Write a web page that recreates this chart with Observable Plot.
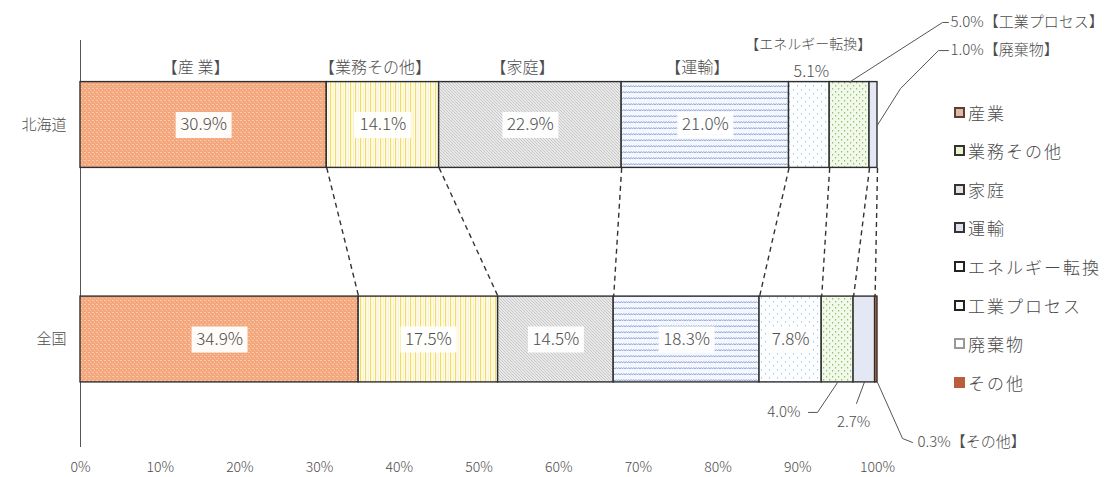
<!DOCTYPE html>
<html><head><meta charset="utf-8">
<script src="https://cdn.jsdelivr.net/npm/d3@7"></script>
<script src="https://cdn.jsdelivr.net/npm/@observablehq/plot@0.6"></script>
<style>
body{margin:0;background:#fff;}
#wrap{position:relative;width:1111px;height:477px;font-family:'Noto Sans CJK JP',sans-serif;}
#legend{position:absolute;left:954px;top:0;}
.item{position:absolute;left:0;height:20px;display:flex;align-items:center;white-space:nowrap;font-size:17px;font-weight:300;letter-spacing:2px;color:#4a4a4a;line-height:1;}
.sw{width:7px;height:7px;border:2px solid #333;margin-right:3px;box-sizing:content-box;}
svg text{font-weight:300;}
</style></head><body><div id="wrap"><div id="legend"></div></div>
<script>
// ---- data ----
const regions = ["北海道", "全国"];
const categories = ["産業", "業務その他", "家庭", "運輸", "エネルギー転換", "工業プロセス", "廃棄物", "その他"];
const hokkaido = [30.9, 14.1, 22.9, 21.0, 5.1, 5.0, 1.0, 0.0];
const zenkoku  = [34.9, 17.5, 14.5, 18.3, 7.8, 4.0, 2.7, 0.3];
const headLabels = ["【産 業】", "【業務その他】", "【家庭】", "【運輸】", "【エネルギー転換】"];
const xTicks = [0, 10, 20, 30, 40, 50, 60, 70, 80, 90, 100];
// callouts: region row, category index, leader waypoints (x in %, y in row units)
const callouts = [
  {row: 0, ci: 5, from: "top",   path: [[108.16, -0.478], [108.9, -0.478]], label: [109.16, -0.478], anchor: "start", full: true},
  {row: 0, ci: 6, from: "right", path: [[102.89, -0.170], [107.65, -0.347], [108.9, -0.347]], label: [109.16, -0.347], anchor: "start", full: true},
  {row: 1, ci: 5, from: "bottom", path: [[92.47, 1.340], [91.34, 1.340]], label: [90.34, 1.340], anchor: "end", full: false},
  {row: 1, ci: 6, from: "bottom", path: [[97.37, 1.298]], label: [96.99, 1.387], anchor: "middle", full: false},
  {row: 1, ci: 7, from: "right-bottom", path: [[103.14, 1.4616], [104.39, 1.48]], label: [105.02, 1.48], anchor: "start", full: true}
];

// ---- derived tables ----
const series = [hokkaido, zenkoku];
const segs = [];
series.forEach((vals, r) => {
  let c = 0;
  vals.forEach((v, i) => {
    segs.push({region: regions[r], row: r, ci: i, cat: categories[i], value: v, x1: c, x2: c + v, mid: c + v / 2});
    c += v;
  });
});
const bars = segs.filter(d => d.value > 0);
const inside = bars.filter(d => d.value >= 7);
const cumH = d3.cumsum(hokkaido), cumN = d3.cumsum(zenkoku);
const connectors = d3.range(7).map(k => ({h: cumH[k], n: cumN[k]}));
const seg = (r, i) => segs.find(d => d.row === r && d.ci === i);
const half = 0.2;
const leaderPts = [];
const calloutLabels = [];
callouts.forEach((c, k) => {
  const s = seg(c.row, c.ci);
  let start;
  if (c.from === "top") start = [s.mid, c.row - half];
  else if (c.from === "bottom") start = [s.mid, c.row + half];
  else if (c.from === "right") start = [s.x2, c.row];
  else start = [s.x2, c.row + half];
  [start, ...c.path].forEach(p => leaderPts.push({id: k, x: p[0], y: p[1]}));
  const txt = s.value.toFixed(1) + "%" + (c.full ? "【" + s.cat + "】" : "");
  calloutLabels.push({x: c.label[0], y: c.label[1], text: txt, anchor: c.anchor});
});

function patternDefs() {
  const defs = d3.create("svg:defs");
  const pat = (id, w, h, bg) => {
    const p = defs.append("pattern").attr("id", id).attr("patternUnits", "userSpaceOnUse").attr("width", w).attr("height", h);
    p.append("rect").attr("width", w).attr("height", h).attr("fill", bg);
    return p;
  };
  let p = pat("p0", 4, 4, "#F4A77D");
  p.append("rect").attr("x", 0).attr("y", 0).attr("width", 2).attr("height", 1).attr("fill", "#F9CBAE");
  p.append("rect").attr("x", 2).attr("y", 2).attr("width", 1).attr("height", 1).attr("fill", "#F9CBAE");
  p = pat("p1", 5, 4, "#FFFEF6");
  p.append("rect").attr("x", 0).attr("width", 1.2).attr("height", 4).attr("fill", "#F4DC5E");
  p.append("rect").attr("x", 2.8).attr("width", 0.8).attr("height", 4).attr("fill", "#FAEBB8");
  p = pat("p2", 3, 3, "#E9E9E9");
  p.append("path").attr("d", "M-1,2L1,4M0,0L3,3M2,-1L4,1").attr("stroke", "#BDBDBD").attr("stroke-width", 0.8);
  p = pat("p3", 5, 6, "#F4F7FE");
  p.append("path").attr("d", "M0,3L1.25,1.5L2.5,3L3.75,1.5L5,3").attr("fill", "none").attr("stroke", "#7F98D2").attr("stroke-width", 0.8);
  p = pat("p4", 8, 8, "#FDFEFF");
  p.append("rect").attr("x", 1).attr("y", 1).attr("width", 1).attr("height", 1.5).attr("fill", "#A9C3D9");
  p.append("rect").attr("x", 5).attr("y", 5).attr("width", 1).attr("height", 1.5).attr("fill", "#A9C3D9");
  p = pat("p5", 6, 6, "#F2F9EA");
  p.append("rect").attr("x", 1).attr("y", 1).attr("width", 1.2).attr("height", 1.5).attr("fill", "#8CC46C");
  p.append("rect").attr("x", 4).attr("y", 4).attr("width", 1.2).attr("height", 1.5).attr("fill", "#8CC46C");
  pat("p6", 4, 4, "#E3E8F4");
  pat("p7", 4, 4, "#CD744C");
  return defs.node();
}

const boxSymbol = {draw(ctx, size) { const r = Math.sqrt(size / Math.PI); ctx.rect(-r, -13, 2 * r, 26); }};
const font = "'Noto Sans CJK JP', sans-serif";
const ink = "#4d4d4d";

const chart = Plot.plot({
  width: 1111, height: 477,
  marginLeft: 80, marginRight: 234, marginTop: 40, marginBottom: 30,
  style: {fontFamily: font, color: ink, background: "#fff"},
  x: {domain: [0, 100]},
  y: {domain: [0, 1], range: [124.5, 339]},
  marks: [
    patternDefs,
    Plot.ruleX([0], {stroke: "#555", strokeWidth: 1}),
    ...categories.map((c, i) => Plot.rect(bars.filter(d => d.ci === i), {
      x1: "x1", x2: "x2", y1: d => d.row - half, y2: d => d.row + half,
      fill: `url(#p${i})`, stroke: "#2e2e2e", strokeWidth: 1.4
    })),
    Plot.link(connectors, {x1: "h", y1: () => half, x2: "n", y2: () => 1 - half, stroke: "#333", strokeWidth: 1.4, strokeDasharray: "5,4"}),
    Plot.dot(inside.filter(d => d.value >= 10), {x: "mid", y: "row", symbol: boxSymbol, r: 28, fill: "white", fillOpacity: 0.95, stroke: "none"}),
    Plot.dot(inside.filter(d => d.value < 10), {x: "mid", y: "row", symbol: boxSymbol, r: 22, fill: "white", fillOpacity: 0.9, stroke: "none"}),
    Plot.text(inside, {x: "mid", y: "row", text: d => d.value.toFixed(1) + "%", fontSize: 17, fill: ink}),
    Plot.text(segs.filter(d => d.row === 0 && d.ci < 4), {x: "mid", y: "row", text: d => headLabels[d.ci], dy: -57, dx: -8, fontSize: 16, fill: ink, style: "letter-spacing:0.7px"}),
    Plot.text(segs.filter(d => d.row === 0 && d.ci === 4), {x: "mid", y: "row", text: d => headLabels[d.ci], dy: -80, dx: -1, fontSize: 14, fill: ink}),
    Plot.text(segs.filter(d => d.row === 0 && d.ci === 4), {x: "mid", y: "row", text: d => d.value.toFixed(1) + "%", dy: -53, dx: 2, fontSize: 16, fill: ink}),
    Plot.line(leaderPts, {x: "x", y: "y", z: "id", stroke: "#555", strokeWidth: 1}),
    Plot.text(calloutLabels.filter(d => d.anchor === "start"), {x: "x", y: "y", text: "text", textAnchor: "start", fontSize: 15, fill: ink}),
    Plot.text(calloutLabels.filter(d => d.anchor === "end"), {x: "x", y: "y", text: "text", textAnchor: "end", fontSize: 15, fill: ink}),
    Plot.text(calloutLabels.filter(d => d.anchor === "middle"), {x: "x", y: "y", text: "text", fontSize: 15, fill: ink}),
    Plot.axisY({ticks: [0, 1], tickFormat: i => regions[i], tickSize: 0, tickPadding: 14, fontSize: 15, label: null}),
    Plot.axisX({ticks: xTicks, tickFormat: d => d + "%", tickSize: 0, tickPadding: 15, fontSize: 14, label: null})
  ]
});
document.getElementById("wrap").prepend(chart);

// ---- legend ----
const swatch = [
  {bg: "#DDB9A8", bd: "#5a4034"}, {bg: "#EEF2CC", bd: "#333"}, {bg: "#E2E2E2", bd: "#333"}, {bg: "#DDE2EC", bd: "#333"},
  {bg: "#FFFFFF", bd: "#222"}, {bg: "#FAFCF7", bd: "#222"}, {bg: "#FFFFFF", bd: "#999"}, {bg: "#B95D3C", bd: "#B95D3C"}
];
const legend = d3.select("#legend");
categories.forEach((c, i) => {
  const it = legend.append("div").attr("class", "item").style("top", (112 + 38.6 * i - 10) + "px");
  it.append("span").attr("class", "sw").style("background", swatch[i].bg).style("border-color", swatch[i].bd);
  it.append("span").text(c);
});
</script></body></html>
